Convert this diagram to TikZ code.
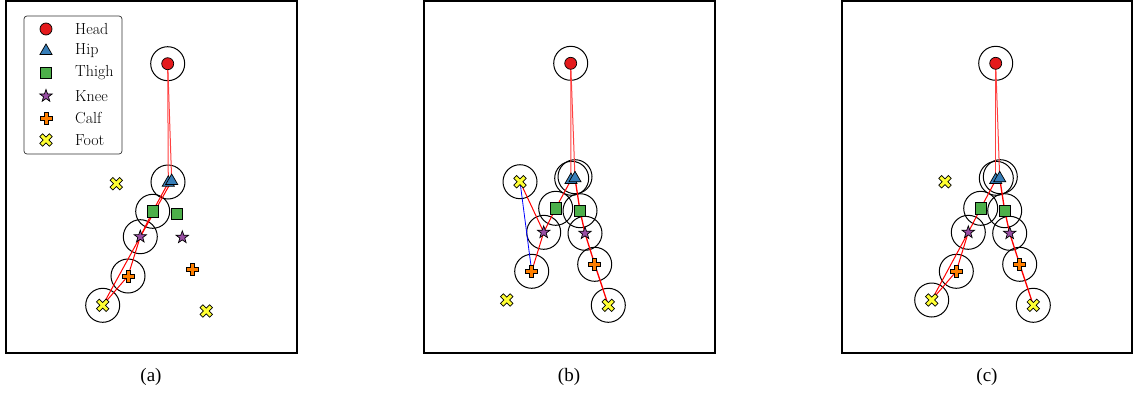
\documentclass[tikz,border=0pt]{standalone}
\usepackage{fontspec}
\newfontfamily\capfont{Liberation Serif}
\usetikzlibrary{shapes.geometric}
\definecolor{cred}{HTML}{E41A1C}
\definecolor{cblue}{HTML}{377EB8}
\definecolor{cgreen}{HTML}{4DAF4A}
\definecolor{cpurple}{HTML}{984EA3}
\definecolor{corange}{HTML}{FF7F00}
\definecolor{cyellow}{HTML}{FFFF33}
\tikzset{
  frame/.style={draw=black, line width=1.7pt},
  ring/.style={draw=black, line width=1.0pt},
  bone/.style={draw=red, line width=1.0pt},
  neck/.style={draw=red!75, line width=1.0pt},
  bluebone/.style={draw=blue, line width=0.8pt},
  mk/.style={draw=black, line width=0.7pt, inner sep=0pt},
  headm/.style={mk, circle, fill=cred, minimum size=12pt},
  hipm/.style={mk, regular polygon, regular polygon sides=3, fill=cblue, minimum size=14pt},
  thighm/.style={mk, rectangle, fill=cgreen, minimum size=11.5pt},
  kneem/.style={mk, star, star points=5, star point ratio=2.5, fill=cpurple, minimum size=13pt},
  plusm/.pic={\filldraw[fill=corange, draw=black, line width=0.7pt]
    (-2,-6)--(2,-6)--(2,-2)--(6,-2)--(6,2)--(2,2)--(2,6)--(-2,6)--(-2,2)--(-6,2)--(-6,-2)--(-2,-2)--cycle;},
  xm/.pic={\filldraw[fill=cyellow, draw=black, line width=0.7pt, rotate=45]
    (-2,-6.8)--(2,-6.8)--(2,-2)--(6.8,-2)--(6.8,2)--(2,2)--(2,6.8)--(-2,6.8)--(-2,2)--(-6.8,2)--(-6.8,-2)--(-2,-2)--cycle;},
  legtext/.style={anchor=west, inner sep=0pt, font=\fontsize{16}{18}\selectfont},
  captext/.style={font=\capfont\fontsize{19}{21}\selectfont}
}
\begin{document}
\begin{tikzpicture}[x=1pt, y=-1pt]
\useasboundingbox (0,0) rectangle (1133,394);
% ---------------- frames
\draw[frame] (6,1) rectangle (297,353);
\draw[frame] (424,1) rectangle (715,353);
\draw[frame] (842,1) rectangle (1132,353);
% ---------------- panel (a) coordinates
\coordinate (aH) at (167.7,63.7);
\coordinate (aHipA) at (168.3,182.7);
\coordinate (aHipB) at (171.7,181);
\coordinate (aTh1) at (152.7,211.3);
\coordinate (aTh2) at (177,213.7);
\coordinate (aKn1) at (140.3,236.7);
\coordinate (aKn2) at (182.3,237.3);
\coordinate (aCa1) at (128,276);
\coordinate (aCa2) at (192.3,269);
\coordinate (aFo1) at (102.7,305.3);
\coordinate (aFo2) at (206.3,311);
\coordinate (aFo3) at (116.3,183.7);
% rings
\foreach \p in {aH,aTh1,aKn1,aCa1,aFo1} \draw[ring] (\p) circle (17pt);
\draw[ring] (168,182) circle (17pt);
% bones
\draw[neck] (aH) -- (aHipA);
\draw[neck] (aH) -- (aHipB);
\draw[bone] (aHipA) -- (aTh1) -- (aKn1) -- (aCa1) -- (aFo1);
\draw[bone] (aHipB) -- (aKn1);
\draw[bone] (aKn1) -- (aFo1);
% markers
\node[headm] (aHm) at (aH) {};
\node[hipm] (aHipAm) at (aHipA) {};
\node[hipm] (aHipBm) at (aHipB) {};
\node[thighm] (aTh1m) at (aTh1) {};
\node[thighm] (aTh2m) at (aTh2) {};
\node[kneem] (aKn1m) at (aKn1) {};
\node[kneem] (aKn2m) at (aKn2) {};
\pic at (aCa1) {plusm};
\pic at (aCa2) {plusm};
\pic at (aFo1) {xm};
\pic at (aFo2) {xm};
\pic at (aFo3) {xm};
% legend
\draw[draw=black!80, line width=0.7pt, rounded corners=3pt, fill=white] (24,16) rectangle (122,154);
\coordinate (l1) at (46,29);
\coordinate (l2) at (46,51);
\coordinate (l3) at (46,73);
\coordinate (l4) at (46,96);
\coordinate (l5) at (46,118);
\coordinate (l6) at (46,140);
\node[headm] (l1m) at (l1) {};
\node[hipm] (l2m) at (l2) {};
\node[thighm] (l3m) at (l3) {};
\node[kneem] (l4m) at (l4) {};
\pic at (l5) {plusm};
\pic at (l6) {xm};
\node[legtext] (t1) at (75,29) {Head};
\node[legtext] (t2) at (75,51) {Hip};
\node[legtext] (t3) at (75,73) {Thigh};
\node[legtext] (t4) at (75,96) {Knee};
\node[legtext] (t5) at (75,118) {Calf};
\node[legtext] (t6) at (75,140) {Foot};
% ---------------- panel (b)
\coordinate (bH) at (570.7,63.3);
\coordinate (bHipA) at (571,180);
\coordinate (bHipB) at (575,178.3);
\coordinate (bThL) at (555.7,208.3);
\coordinate (bThR) at (580,210.7);
\coordinate (bKnL) at (543.7,232.3);
\coordinate (bKnR) at (585,233.3);
\coordinate (bCaL) at (531.7,271.3);
\coordinate (bCaR) at (594.7,264.3);
\coordinate (bFoA) at (520,181.7);
\coordinate (bFoB) at (608.3,305.3);
\coordinate (bFoC) at (506.7,300);
\foreach \p in {bH,bThL,bThR,bKnL,bKnR,bCaL,bCaR,bFoA,bFoB} \draw[ring] (\p) circle (17pt);
\draw[ring] (571.7,178.3) circle (17pt);
\draw[ring] (575,176.7) circle (17pt);
\draw[neck] (bH) -- (bHipA);
\draw[neck] (bH) -- (bHipB);
\draw[bone] (bHipA) -- (bThL) -- (bKnL) -- (bCaL);
\draw[bone] (bFoA) -- (bKnL);
\draw[bluebone] (bFoA) -- (bCaL);
\draw[bone, line width=1.3pt] (bHipB) -- (bThR) -- (bKnR) -- (bCaR) -- (bFoB);
\node[headm] (bHm) at (bH) {};
\node[hipm] (bHipAm) at (bHipA) {};
\node[hipm] (bHipBm) at (bHipB) {};
\node[thighm] (bThLm) at (bThL) {};
\node[thighm] (bThRm) at (bThR) {};
\node[kneem] (bKnLm) at (bKnL) {};
\node[kneem] (bKnRm) at (bKnR) {};
\pic at (bCaL) {plusm};
\pic at (bCaR) {plusm};
\pic at (bFoA) {xm};
\pic at (bFoB) {xm};
\pic at (bFoC) {xm};
% ---------------- panel (c)
\coordinate (cH) at (995.7,63.3);
\coordinate (cHipA) at (995.7,180);
\coordinate (cHipB) at (999.7,178.3);
\coordinate (cThL) at (980.7,208.3);
\coordinate (cThR) at (1004.7,210.7);
\coordinate (cKnL) at (968.3,232.3);
\coordinate (cKnR) at (1009.7,233.3);
\coordinate (cCaL) at (956.3,271.3);
\coordinate (cCaR) at (1019.7,264.3);
\coordinate (cFoL) at (931.7,300);
\coordinate (cFoR) at (1033.3,305.3);
\coordinate (cFoX) at (945,181.7);
\foreach \p in {cH,cThL,cThR,cKnL,cKnR,cCaL,cCaR,cFoL,cFoR} \draw[ring] (\p) circle (17pt);
\draw[ring] (996.3,178.3) circle (17pt);
\draw[ring] (1000.3,176.7) circle (17pt);
\draw[neck] (cH) -- (cHipA);
\draw[neck] (cH) -- (cHipB);
\draw[bone] (cHipA) -- (cThL) -- (cKnL) -- (cCaL) -- (cFoL);
\draw[bone] (cKnL) -- (cFoL);
\draw[bone, line width=1.3pt] (cHipB) -- (cThR) -- (cKnR) -- (cCaR) -- (cFoR);
\node[headm] (cHm) at (cH) {};
\node[hipm] (cHipAm) at (cHipA) {};
\node[hipm] (cHipBm) at (cHipB) {};
\node[thighm] (cThLm) at (cThL) {};
\node[thighm] (cThRm) at (cThR) {};
\node[kneem] (cKnLm) at (cKnL) {};
\node[kneem] (cKnRm) at (cKnR) {};
\pic at (cCaL) {plusm};
\pic at (cCaR) {plusm};
\pic at (cFoL) {xm};
\pic at (cFoR) {xm};
\pic at (cFoX) {xm};
% ---------------- captions
\node[captext] (capa) at (151,377) {(a)};
\node[captext] (capb) at (569,377) {(b)};
\node[captext] (capc) at (987,377) {(c)};
\end{tikzpicture}
\end{document}
